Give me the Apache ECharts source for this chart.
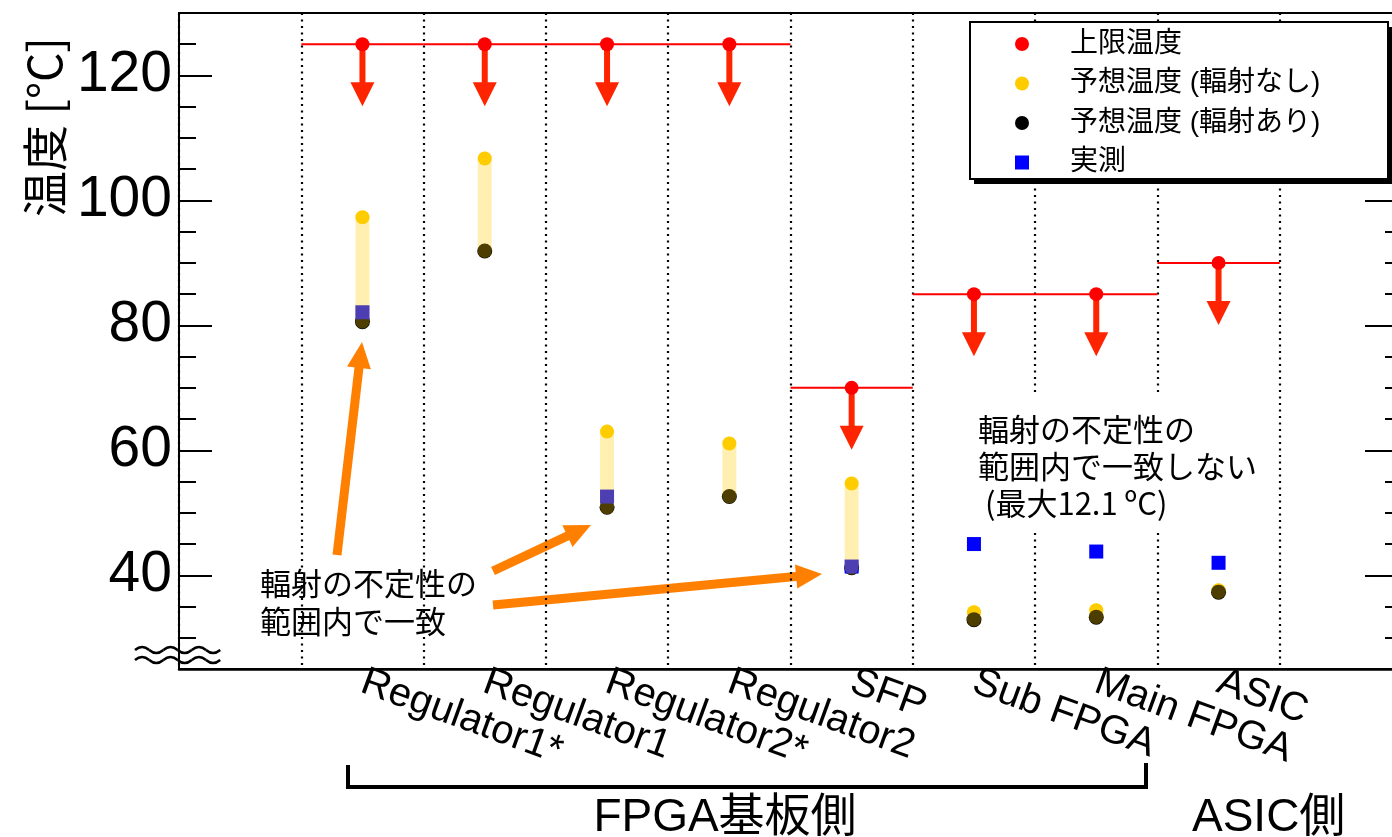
<!DOCTYPE html>
<html>
<head>
<meta charset="utf-8">
<script src="https://cdn.jsdelivr.net/npm/echarts@6/dist/echarts.min.js"></script>
<style>
  html, body { margin: 0; padding: 0; background: #fff; }
  #chart { width: 1392px; height: 837px; }
</style>
</head>
<body>
<div id="chart"></div>
<script>
// Components on the board and their temperatures [°C]
const categories = ['Regulator1*', 'Regulator1', 'Regulator2*', 'Regulator2', 'SFP', 'Sub FPGA', 'Main FPGA', 'ASIC'];
const upperLimit = [125, 125, 125, 125, 70, 85, 85, 90];
const predictedNoRad = [97.3, 106.7, 63.0, 61.1, 54.7, 34.1, 34.4, 37.6];
const predictedRad = [80.6, 91.9, 50.9, 52.6, 41.2, 32.9, 33.3, 37.3];
const measured = [82.1, null, 52.6, null, 41.4, 45.0, 43.8, 42.0];
const yMajorTicks = [40, 60, 80, 100, 120];
const seriesNames = ['上限温度', '予想温度 (輻射なし)', '予想温度 (輻射あり)', '実測'];

const LATIN = "'Liberation Sans', 'Noto Sans CJK JP', sans-serif";
const CJK = "'Noto Sans CJK JP', 'Liberation Sans', sans-serif";

// one empty slot on each side of the components
const axisCategories = [''].concat(categories, ['']);

const pairs = (vals) => vals
  .map((v, i) => (v == null ? null : [categories[i], v]))
  .filter(Boolean);

const chart = echarts.init(document.getElementById('chart'), null, { renderer: 'canvas' });

// upper limit: horizontal bar across the slot plus a downward arrow
function renderLimit(params, api) {
  const c = api.coord([api.value(0), api.value(1)]);
  const bw = api.size([1, 0])[0];
  return {
    type: 'group',
    children: [
      { type: 'line', shape: { x1: c[0] - bw / 2, y1: c[1], x2: c[0] + bw / 2, y2: c[1] },
        style: { stroke: '#ff0000', lineWidth: 2 } },
      { type: 'line', shape: { x1: c[0], y1: c[1], x2: c[0], y2: c[1] + 40 },
        style: { stroke: '#ff2400', lineWidth: 6 } },
      { type: 'polygon', shape: { points: [[c[0] - 12, c[1] + 38], [c[0] + 12, c[1] + 38], [c[0], c[1] + 62]] },
        style: { fill: '#ff2400' } }
    ]
  };
}

// translucent band linking the two predictions
function renderBand(params, api) {
  const a = api.coord([api.value(0), api.value(1)]);
  const b = api.coord([api.value(0), api.value(2)]);
  return {
    type: 'line',
    shape: { x1: a[0], y1: a[1], x2: b[0], y2: b[1] },
    style: { stroke: 'rgba(255,204,0,0.3)', lineWidth: 14, lineCap: 'round' }
  };
}

function arrow(tail, tip, color, width, headW, headL) {
  const dx = tip[0] - tail[0], dy = tip[1] - tail[1];
  const len = Math.hypot(dx, dy);
  const ux = dx / len, uy = dy / len;
  const bx = tip[0] - ux * headL, by = tip[1] - uy * headL;
  return {
    type: 'group', z: 10,
    children: [
      { type: 'line', shape: { x1: tail[0], y1: tail[1], x2: bx + ux * 2, y2: by + uy * 2 },
        style: { stroke: color, lineWidth: width } },
      { type: 'polygon',
        shape: { points: [[bx - uy * headW / 2, by + ux * headW / 2], [bx + uy * headW / 2, by - ux * headW / 2], tip] },
        style: { fill: color } }
    ]
  };
}

// axis-break mark: two wavy strokes made of quadratic half-waves
function breakWave(x0, y0, halfWaves, step, amp) {
  const parts = [];
  for (let k = 0; k < halfWaves; k++) {
    const xa = x0 + k * step;
    const dir = k % 2 === 0 ? -1 : 1;
    parts.push({
      type: 'bezierCurve',
      shape: { x1: xa, y1: y0, x2: xa + step, y2: y0, cpx1: xa + step / 2, cpy1: y0 + dir * amp * 2 },
      style: { stroke: '#000', lineWidth: 2.5, fill: null }
    });
  }
  return { type: 'group', z: 10, children: parts };
}

const ORANGE = '#ff8000';
const SQUARE_ICON = 'path://M0 0L10 0L10 10L0 10Z';

const yBase = { type: 'value', min: 25, max: 130, interval: 5, splitLine: { show: false } };

const option = {
  animation: false,
  backgroundColor: '#fff',
  grid: {
    left: 179, top: 13, width: 1223, height: 656,
    outerBoundsMode: 'none', containLabel: false,
    show: true, borderColor: '#000', borderWidth: 2
  },
  xAxis: {
    type: 'category',
    data: axisCategories,
    boundaryGap: true,
    axisLine: { lineStyle: { color: '#000', width: 2.5 } },
    axisTick: { show: false },
    axisLabel: { interval: 0, rotate: -20, fontSize: 40, color: '#000', fontFamily: LATIN, margin: 12 },
    splitLine: { show: true, interval: 0, lineStyle: { color: '#000', width: 2.2, type: [2, 4.5] } }
  },
  yAxis: [
    Object.assign({}, yBase, {
      position: 'left',
      axisLine: { show: true, lineStyle: { color: '#000', width: 2 } },
      axisTick: { show: true, inside: true, length: 17, lineStyle: { color: '#000', width: 2 } },
      axisLabel: { show: false }
    }),
    Object.assign({}, yBase, {
      position: 'left',
      axisLine: { show: false },
      axisTick: { show: true, inside: true, length: 33, customValues: yMajorTicks, lineStyle: { color: '#000', width: 2 } },
      axisLabel: { show: true, customValues: yMajorTicks, fontSize: 57, color: '#000', fontFamily: LATIN, margin: 7 }
    }),
    Object.assign({}, yBase, {
      position: 'right',
      axisLine: { show: false },
      axisTick: { show: true, inside: true, length: 17, lineStyle: { color: '#000', width: 2 } },
      axisLabel: { show: false }
    }),
    Object.assign({}, yBase, {
      position: 'right',
      axisLine: { show: false },
      axisTick: { show: true, inside: true, length: 37, customValues: yMajorTicks, lineStyle: { color: '#000', width: 2 } },
      axisLabel: { show: false }
    })
  ],
  legend: {
    data: [
      { name: seriesNames[0], icon: 'circle' },
      { name: seriesNames[1], icon: 'circle' },
      { name: seriesNames[2], icon: 'circle' },
      { name: seriesNames[3], icon: SQUARE_ICON }
    ],
    orient: 'vertical',
    left: 970,
    top: 22,
    itemWidth: 86,
    itemHeight: 14,
    itemGap: 11.5,
    padding: [8, 40, 6, 45],
    symbolKeepAspect: true,
    backgroundColor: 'transparent',
    borderWidth: 0,
    z: 6,
    textStyle: { fontSize: 28, lineHeight: 28, color: '#000', fontFamily: LATIN },
    selectedMode: false
  },
  series: [
    {
      name: 'limitBars', type: 'custom', renderItem: renderLimit, z: 2,
      data: pairs(upperLimit), silent: true
    },
    {
      name: seriesNames[0], type: 'scatter', symbol: 'circle', symbolSize: 14, z: 4,
      itemStyle: { color: '#ff0000', opacity: 1 }, data: pairs(upperLimit)
    },
    {
      name: seriesNames[1], type: 'scatter', symbol: 'circle', symbolSize: 14, z: 3,
      itemStyle: { color: '#ffcc00', opacity: 1 }, data: pairs(predictedNoRad)
    },
    {
      name: seriesNames[2], type: 'scatter', symbol: 'circle', symbolSize: 15, z: 4,
      itemStyle: { color: '#000000', opacity: 1 }, data: pairs(predictedRad)
    },
    {
      name: seriesNames[3], type: 'scatter', symbol: 'rect', symbolSize: 14, z: 4,
      itemStyle: { color: '#0000ff', opacity: 1 }, data: pairs(measured)
    },
    {
      name: 'band', type: 'custom', renderItem: renderBand, z: 5, silent: true,
      data: categories.map((c, i) => [c, predictedNoRad[i], predictedRad[i]])
    }
  ],
  graphic: [
    // y-axis title
    {
      type: 'text', x: 45, y: 127, rotation: Math.PI / 2,
      style: { text: '温度 [°C]', font: '46px ' + CJK, fill: '#000', align: 'center', verticalAlign: 'middle' }
    },
    breakWave(135, 650, 6, 14.2, 3),
    breakWave(135, 660, 6, 14.2, 3),
    // legend frame with drop shadow
    {
      type: 'rect', z: 5, shape: { x: 974, y: 27, width: 418, height: 157 },
      style: { fill: '#000' }
    },
    {
      type: 'rect', z: 5, shape: { x: 970, y: 22, width: 418, height: 157 },
      style: { fill: '#fff', stroke: '#000', lineWidth: 2 }
    },
    // annotation: agreement
    {
      type: 'text', x: 260, y: 564, z: 10,
      style: { text: '輻射の不定性の\n範囲内で一致', font: '31px ' + CJK, lineHeight: 38, fill: '#000' }
    },
    arrow([337, 555], [362, 342], ORANGE, 9, 24, 26),
    arrow([493, 571], [591, 525], ORANGE, 9, 24, 26),
    arrow([493, 605], [822, 574], ORANGE, 9, 24, 26),
    // annotation: disagreement
    {
      type: 'text', x: 958, y: 395, z: 10,
      style: {
        text: '輻射の不定性の\n範囲内で一致しない\n (最大12.1 ºC)',
        font: '31px ' + CJK, lineHeight: 37, fill: '#000',
        backgroundColor: '#fff', padding: [16, 12, 10, 20]
      }
    },
    // group bracket and labels
    {
      type: 'polyline', shape: { points: [[348, 765], [348, 787], [1146, 787], [1146, 763]] },
      style: { stroke: '#000', lineWidth: 4, fill: null }
    },
    {
      type: 'text', x: 725, y: 818,
      style: { text: 'FPGA基板側', font: '46px ' + LATIN, fill: '#000', align: 'center', verticalAlign: 'middle' }
    },
    {
      type: 'text', x: 1192, y: 818,
      style: { text: 'ASIC側', font: '46px ' + LATIN, fill: '#000', align: 'left', verticalAlign: 'middle' }
    }
  ]
};

chart.setOption(option);
</script>
</body>
</html>
